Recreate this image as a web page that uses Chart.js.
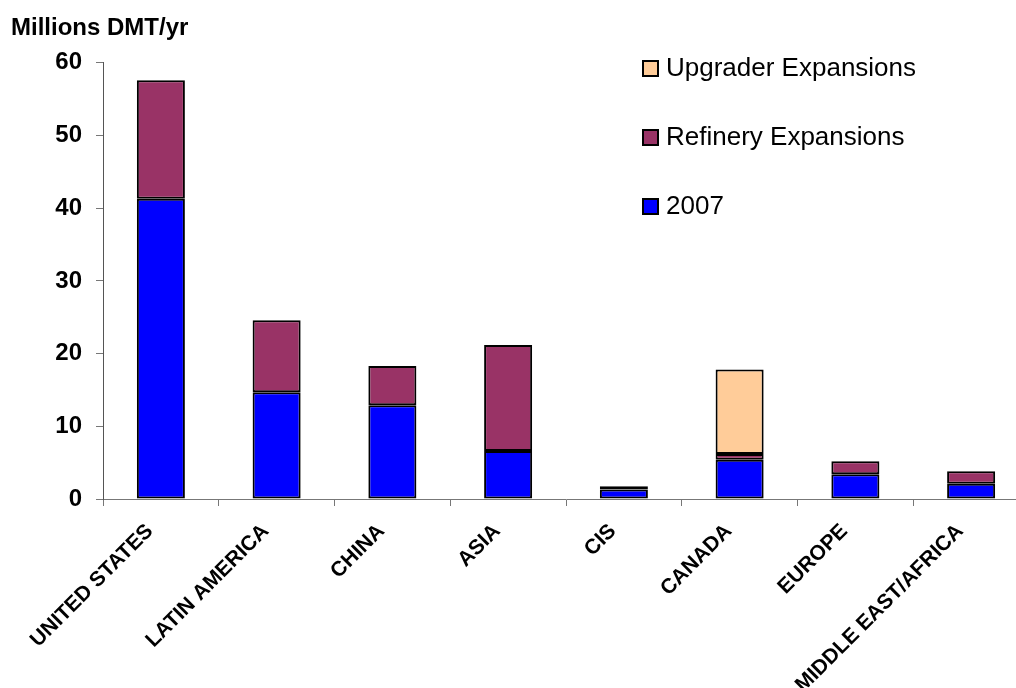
<!DOCTYPE html>
<html>
<head>
<meta charset="utf-8">
<script src="https://cdn.jsdelivr.net/npm/chart.js@4"></script>
<style>
html,body{margin:0;padding:0;overflow:hidden;background:#fff}
</style>
</head>
<body>
<canvas id="capacityChart" width="1032" height="688"></canvas>
<script>

const regions = ["UNITED STATES","LATIN AMERICA","CHINA","ASIA","CIS","CANADA","EUROPE","MIDDLE EAST/AFRICA"]

const base2007 = [41.3,14.7,12.9,6.6,1.3,5.4,3.4,2.1]
const refinery = [16.3,9.9,5.4,14.6,0.45,0.8,1.8,1.7]
const upgrader = [null,null,null,null,null,11.6,null,null]

const yTicks = [0,10,20,30,40,50,60]

const FONT = 'Arial, "Liberation Sans", sans-serif'

// legend drawn inside the plot, top right, in reverse stack order
const sideLegend = {
id:'sideLegend',
afterDraw(chart){
const ctx = chart.ctx
const sets = chart.data.datasets.slice().reverse()
ctx.save()
ctx.font = '26px ' + FONT
ctx.textBaseline = 'middle'
ctx.textAlign = 'left'
sets.forEach((ds,i)=>{
const y = 68 + i*69
ctx.fillStyle = ds.backgroundColor
ctx.fillRect(643,y-7,15,15)
ctx.lineWidth = 2
ctx.strokeStyle = '#000'
ctx.strokeRect(643,y-7,15,15)
ctx.fillStyle = '#000'
ctx.fillText(ds.label,666,y+1)
})
ctx.restore()
}
}

const ctx = document.getElementById("capacityChart")

new Chart(ctx,{
type:'bar',
data:{
labels:regions,
datasets:[
{label:'2007',data:base2007,backgroundColor:'#0000FF'},
{label:'Refinery Expansions',data:refinery,backgroundColor:'#993366'},
{label:'Upgrader Expansions',data:upgrader,backgroundColor:'#FFCC99'}
].map(d=>Object.assign(d,{
borderColor:'#000',
borderWidth:2,
borderSkipped:false,
categoryPercentage:1,
barPercentage:0.415
}))
},
options:{
responsive:false,
devicePixelRatio:1,
animation:false,
layout:{padding:{left:11,right:3,top:0,bottom:0}},
plugins:{
legend:{display:false},
tooltip:{enabled:false},
title:{
display:true,
text:'Millions DMT/yr',
align:'start',
color:'#000',
font:{family:FONT,size:24,weight:'bold'},
padding:{top:14,bottom:20}
}
},
scales:{
x:{
stacked:true,
grid:{display:true,drawOnChartArea:false,offset:true,tickLength:7,color:'#777'},
border:{color:'#777',width:1},
ticks:{
color:'#000',
font:{family:FONT,size:21,weight:'bold'},
maxRotation:45,
minRotation:45,
autoSkip:false,
padding:13,
labelOffset:-11
},
afterFit(scale){ scale.height = 189 }
},
y:{
stacked:true,
min:0,
max:60,
afterBuildTicks(scale){ scale.ticks = yTicks.map(v=>({value:v})) },
grid:{display:true,drawOnChartArea:false,tickLength:7,color:'#777'},
border:{color:'#555',width:1},
ticks:{
color:'#000',
font:{family:FONT,size:24,weight:'bold'},
padding:14
},
afterFit(scale){ scale.width = 92 }
}
}
},
plugins:[sideLegend]
})

</script>
</body>
</html>
